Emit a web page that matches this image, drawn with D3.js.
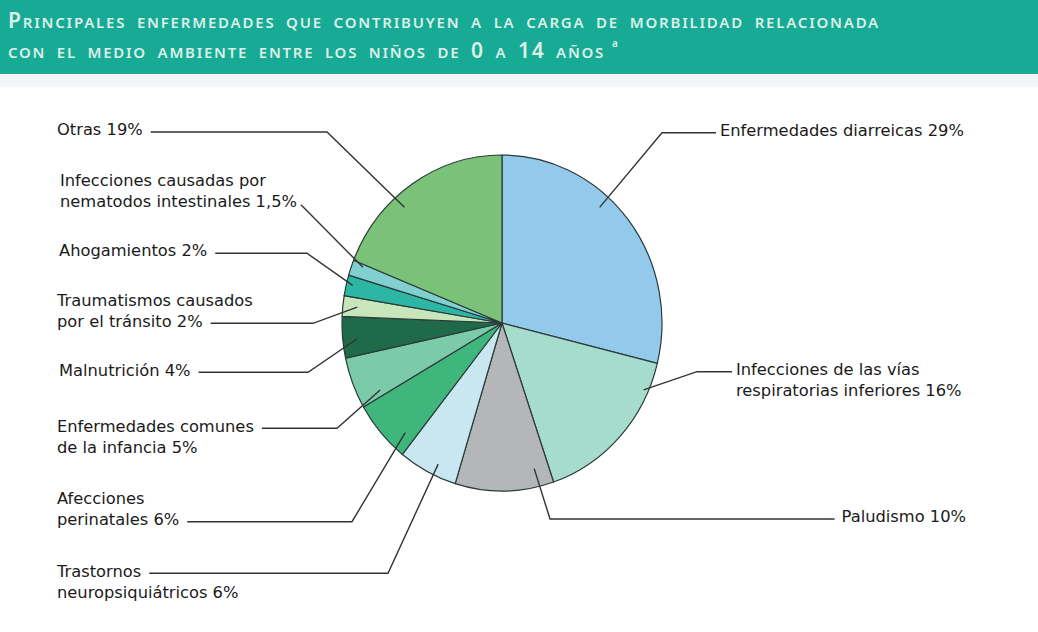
<!DOCTYPE html>
<html lang="es">
<head>
<meta charset="utf-8">
<script src="https://cdn.jsdelivr.net/npm/d3@7"></script>
<style>
  html, body { margin: 0; padding: 0; background: #ffffff; }
  svg { display: block; }
  .lbl { font-family: "DejaVu Sans", "Noto Sans", sans-serif; font-size: 16.3px; fill: #1b1b1b; }
  .title { font-family: "Noto Sans", "Open Sans", sans-serif; fill: #dcefe8; font-weight: 600; }
</style>
</head>
<body>
<svg id="chart" width="1038" height="632"></svg>
<script>
// Share of environment-related disease burden, children aged 0–14 (clockwise from 12 o'clock)
const categories = [
  "Enfermedades diarreicas",
  "Infecciones de las vías\nrespiratorias inferiores",
  "Paludismo",
  "Trastornos\nneuropsiquiátricos",
  "Afecciones\nperinatales",
  "Enfermedades comunes\nde la infancia",
  "Malnutrición",
  "Traumatismos causados\npor el tránsito",
  "Ahogamientos",
  "Infecciones causadas por\nnematodos intestinales",
  "Otras"
];
const values = [29, 16, 10, 6, 6, 5, 4, 2, 2, 1.5, 19];
const colors = [
  "#93c9eb", "#a5dccc", "#b4b6b7", "#c8e7f0", "#3fb77c", "#7bcaa8",
  "#1f6a48", "#c7e6bb", "#2db6a4", "#80d0d2", "#79c278"
];

// Title, in small capitals: [text, isLargeCap]
const titleLine1 = [["P", true], ["RINCIPALES ENFERMEDADES QUE CONTRIBUYEN A LA CARGA DE MORBILIDAD RELACIONADA", false]];
const titleLine2 = [["CON EL MEDIO AMBIENTE ENTRE LOS NIÑOS DE ", false], ["0", true], [" A ", false], ["14", true], [" AÑOS", false]];

// Label placement: first baseline, text anchor, line carrying the leader,
// leader elbow, anchor inside the slice (t = share of slice angle, k = share of radius)
const labelLayout = [
  { x: 720, y: 136,   anchor: "start", attach: 0, elbow: [662, 132.7], t: 0.40, k: 0.92 },
  { x: 736, y: 375,   anchor: "start", attach: 0, elbow: [697, 371.7], t: 0.18, k: 0.97 },
  { x: 966, y: 522,   anchor: "end",   attach: 0, elbow: [550, 519],   t: 0.16, k: 0.89 },
  { x: 57,  y: 576.5, anchor: "start", attach: 0, elbow: [388, 573.3], t: 0.39, k: 0.93 },
  { x: 57,  y: 504,   anchor: "start", attach: 1, elbow: [352, 521.7], t: 0.20, k: 0.89 },
  { x: 57,  y: 431.5, anchor: "start", attach: 0, elbow: [337, 428.3], t: 0.13, k: 0.86 },
  { x: 59,  y: 375.5, anchor: "start", attach: 0, elbow: [308, 372.3], t: 0.43, k: 0.91 },
  { x: 57,  y: 305.5, anchor: "start", attach: 1, elbow: [313, 323.3], t: 0.52, k: 0.91 },
  { x: 59,  y: 256,   anchor: "start", attach: 0, elbow: [307, 253.3], t: 0.57, k: 0.96 },
  { x: 60,  y: 186,   anchor: "start", attach: 1, elbow: null,         t: 0.80, k: 0.93 },
  { x: 57,  y: 135,   anchor: "start", attach: 0, elbow: [327, 132],   t: 0.39, k: 0.92 }
];

const W = 1038, H = 632;
const cx = 502, cy = 323, rx = 160, ry = 168;
const lineGap = 21;

const svg = d3.select("#chart");

// backgrounds
svg.append("rect").attr("width", W).attr("height", H).attr("fill", "#ffffff");
svg.append("rect").attr("x", 0).attr("y", 74).attr("width", W).attr("height", 13).attr("fill", "#f2f6f8");
svg.append("rect").attr("x", 0).attr("y", 0).attr("width", W).attr("height", 74).attr("fill", "#17ab95");

// title: small caps built from two sizes, tracked out to a given width
function titleText(parts, y, targetWidth) {
  const t = svg.append("text").attr("class", "title").attr("x", 8).attr("y", y)
    .attr("word-spacing", 5);
  parts.forEach(([s, big]) => {
    t.append("tspan").attr("font-size", big ? 21 : 15).text(s);
  });
  const natural = t.node().getComputedTextLength();
  const nChars = parts.reduce((n, p) => n + p[0].length, 0);
  t.attr("letter-spacing", Math.max(0, (targetWidth - natural) / nChars));
  return t;
}
titleText(titleLine1, 28, 872);
titleText(titleLine2, 58, 597);
svg.append("text").attr("class", "title").attr("x", 612).attr("y", 47)
  .attr("font-size", 10).text("a");

// pie
const pie = d3.pie().sort(null).value(d => d).startAngle(0).endAngle(2 * Math.PI);
const arcs = pie(values);
const arc = d3.arc().innerRadius(0).outerRadius(rx);

const g = svg.append("g").attr("transform", `translate(${cx},${cy}) scale(1,${ry / rx})`);
g.selectAll("path").data(arcs).join("path")
  .attr("d", arc)
  .attr("fill", (d, i) => colors[i])
  .attr("stroke", "#2b3a3a")
  .attr("stroke-width", 1.2)
  .attr("stroke-linejoin", "round")
  .attr("vector-effect", "non-scaling-stroke");

// point inside a slice, in page coordinates
function slicePoint(d, t, k) {
  const a = d.startAngle + t * (d.endAngle - d.startAngle);
  return [cx + Math.sin(a) * rx * k, cy - Math.cos(a) * ry * k];
}

// labels and leader lines
const fmt = v => String(v).replace(".", ",");
const leader = d3.line();

arcs.forEach((d, i) => {
  const L = labelLayout[i];
  const lines = categories[i].split("\n");
  lines[lines.length - 1] += " " + fmt(values[i]) + "%";

  const texts = lines.map((s, j) =>
    svg.append("text").attr("class", "lbl")
      .attr("text-anchor", L.anchor)
      .attr("x", L.x).attr("y", L.y + j * lineGap).text(s));

  const w = texts[L.attach].node().getComputedTextLength();
  const lineY = L.y + L.attach * lineGap - 3.3;
  const inner = slicePoint(d, L.t, L.k);

  let pts;
  if (L.anchor === "end") {
    pts = [inner, L.elbow, [L.x - w - 7, L.elbow[1]]];
  } else if (L.x > cx) {
    pts = [inner, L.elbow, [L.x - 4, L.elbow[1]]];
  } else if (L.elbow) {
    pts = [inner, L.elbow, [L.x + w + 8, L.elbow[1]]];
  } else {
    pts = [inner, [L.x + w + 4, lineY + 1]];
  }

  svg.append("path")
    .attr("d", leader(pts))
    .attr("fill", "none")
    .attr("stroke", "#333")
    .attr("stroke-width", 1.4);
});
</script>
</body>
</html>
